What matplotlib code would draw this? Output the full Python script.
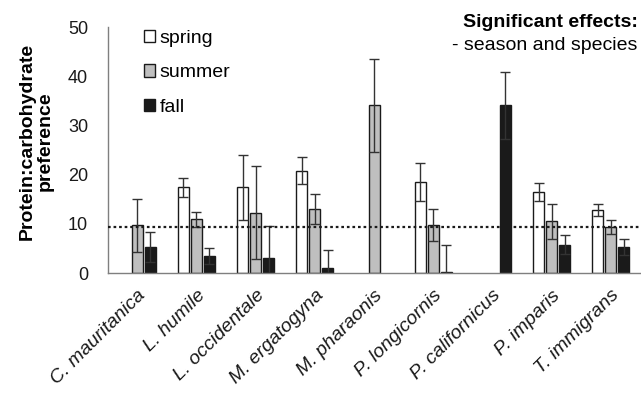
import matplotlib.pyplot as plt
import numpy as np

plt.rcParams['font.family'] = ['Liberation Sans', 'DejaVu Sans']

# values
species = ["C. mauritanica", "L. humile", "L. occidentale", "M. ergatogyna",
           "M. pharaonis", "P. longicornis", "P. californicus", "P. imparis",
           "T. immigrans"]
seasons = ["spring", "summer", "fall"]

spring = [np.nan, 17.4, 17.4, 20.8, np.nan, 18.5, np.nan, 16.5, 12.8]
spring_err = [np.nan, 2.0, 6.7, 2.7, np.nan, 3.9, np.nan, 1.9, 1.3]
summer = [9.7, 10.9, 12.3, 13.0, 34.1, 9.8, np.nan, 10.5, 9.3]
summer_err = [5.4, 1.5, 9.5, 3.1, 9.5, 3.3, np.nan, 3.5, 1.4]
fall = [5.3, 3.5, 3.0, 1.1, np.nan, 0.3, 34.1, 5.8, 5.3]
fall_err = [3.0, 1.6, 6.6, 3.5, np.nan, 5.5, 6.8, 2.0, 1.7]

reference_line = 9.3

fig = plt.figure(figsize=(6.41, 3.94), dpi=100)
ax = fig.add_axes([0.168, 0.307, 0.831, 0.624])

x = np.arange(len(species))
width = 0.186
step = 0.22
colors = ["white", "#bfbfbf", "#1a1a1a"]
series = [(spring, spring_err), (summer, summer_err), (fall, fall_err)]

for i, (vals, errs) in enumerate(series):
    pos = x + (i - 1) * step
    ax.bar(pos, vals, width, color=colors[i], edgecolor="#1a1a1a",
           linewidth=1.0, label=seasons[i], zorder=2)
    ax.errorbar(pos, vals, yerr=errs, fmt="none", ecolor="#333333",
                elinewidth=1.0, capsize=3.5, capthick=1.0, zorder=3)

ax.axhline(reference_line, color="#1a1a1a", linestyle=(0, (1.2, 1.3)),
           linewidth=1.6, zorder=4)

ax.set_xlim(-0.5, len(species) - 0.5)
ax.set_ylim(0, 50)
ax.set_yticks([0, 10, 20, 30, 40, 50])
ax.set_xticks(x)
ax.set_xticklabels(species, rotation=45, ha="right", rotation_mode="anchor",
                   fontstyle="italic", fontsize=14)
ax.tick_params(axis="both", length=0, colors="#1a1a1a")
ax.tick_params(axis="y", labelsize=13, pad=14)
ax.tick_params(axis="x", pad=10)

for side in ["top", "right"]:
    ax.spines[side].set_visible(False)
for side in ["left", "bottom"]:
    ax.spines[side].set_color("#7f7f7f")
    ax.spines[side].set_linewidth(1.0)

ax.set_ylabel("Protein:carbohydrate\npreference", fontsize=14,
              fontweight="bold", linespacing=1.05)
ax.yaxis.set_label_coords(-0.101, 0.537)

ax.legend(loc="upper left", bbox_to_anchor=(0.035, 1.06), frameon=False,
          fontsize=14, handlelength=0.6, handleheight=0.6,
          handletextpad=0.2, labelspacing=0.9)

fig.text(0.995, 0.942, "Significant effects:", ha="right", va="center",
         fontsize=14, fontweight="bold")
fig.text(0.995, 0.884, "- season and species", ha="right", va="center",
         fontsize=14)

fig.savefig("out.png", dpi=100)
